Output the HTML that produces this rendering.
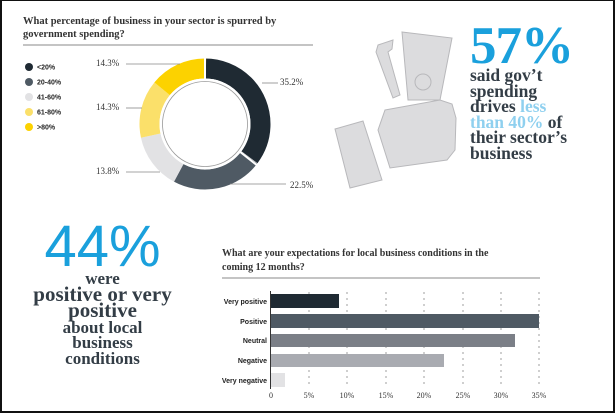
<!DOCTYPE html>
<html><head><style>
body{margin:0;width:615px;height:413px;overflow:hidden;background:#fff;}
.f{position:absolute;box-sizing:border-box;left:0;top:0;width:615px;height:413px;border:2px solid #111;border-top-width:1px;}
.t{position:absolute;font-family:"Liberation Serif",serif;color:#333d46;font-weight:bold;}
</style></head><body>
<div class="f"></div>
<svg width="615" height="413" style="position:absolute;left:0;top:0" font-family="Liberation Sans, sans-serif">
<text x="23" y="24" font-family="Liberation Serif, serif" font-weight="bold" font-size="10.5" fill="#333">What percentage of business in your sector is spurred by</text>
<text x="23" y="37" font-family="Liberation Serif, serif" font-weight="bold" font-size="10.5" fill="#333">government spending?</text>
<line x1="23" y1="45" x2="313" y2="45" stroke="#888" stroke-width="1"/>
<g font-size="7" fill="#222" font-weight="bold">
<circle cx="29" cy="67" r="4" fill="#1f2a33"/><text x="37" y="69.5">&lt;20%</text>
<circle cx="29" cy="82" r="4" fill="#4f5a64"/><text x="37" y="84.5">20-40%</text>
<circle cx="29" cy="97" r="4" fill="#e2e2e4"/><text x="37" y="99.5">41-60%</text>
<circle cx="29" cy="112" r="4" fill="#fbe06a"/><text x="37" y="114.5">61-80%</text>
<circle cx="29" cy="127" r="4" fill="#fcd200"/><text x="37" y="129.5">&gt;80%</text>
</g>
<g transform="translate(205,124)" fill="none" stroke-width="20">
<circle r="55.5" stroke="#1f2a33" stroke-dasharray="122.7 400" transform="rotate(-90)"/>
<circle r="55.5" stroke="#4f5a64" stroke-dasharray="78.5 400" transform="rotate(37.2)"/>
<circle r="55.5" stroke="#e2e2e4" stroke-dasharray="48.1 400" transform="rotate(118.2)"/>
<circle r="55.5" stroke="#fbe06a" stroke-dasharray="49.9 400" transform="rotate(167.9)"/>
<circle r="55.5" stroke="#fcd200" stroke-dasharray="49.9 400" transform="rotate(219.4)"/>
<g stroke="#fff" stroke-width="2">
<line x1="0" y1="-44" x2="0" y2="-68"/>
<line x1="34.5" y1="27.4" x2="53.3" y2="42.3"/>
</g>
<circle r="44" stroke="#fff" stroke-width="3"/>
<circle r="42.5" stroke="#999" stroke-width="0.8"/>
</g>
<g stroke="#888" stroke-width="0.8">
<line x1="126" y1="64" x2="180" y2="64"/><line x1="126" y1="108" x2="142" y2="108"/><line x1="126" y1="172" x2="160" y2="172"/>
<line x1="262" y1="83" x2="278" y2="83"/><line x1="230" y1="184" x2="286" y2="184"/>
</g>
<g font-family="Liberation Serif, serif" font-size="9" fill="#333">
<text x="96" y="66">14.3%</text><text x="96" y="110">14.3%</text><text x="96" y="174">13.8%</text>
<text x="280" y="85">35.2%</text><text x="290" y="188">22.5%</text>
</g>
<!-- hand icon -->
<g fill="#dcdcde" stroke="#b8b8bb" stroke-width="1">
<path d="M378 45 L393 40 L392 49 L388 52 L400 95 L393 98 L376 52 Z"/>
<path d="M402 32 L452 38 L440 100 L408 100 Z"/>
<path d="M335 129 L363 121 L382 180 L350 188 Z"/>
<path d="M385 110 L440 100 L452 104 L456 118 L455 150 L447 160 L390 168 L378 130 Z"/>
</g>
<circle cx="423" cy="82" r="8" fill="#dcdcde" stroke="#b8b8bb"/>
<text x="222" y="256" font-family="Liberation Serif, serif" font-weight="bold" font-size="10" fill="#333">What are your expectations for local business conditions in the</text>
<text x="222" y="270" font-family="Liberation Serif, serif" font-weight="bold" font-size="10" fill="#333">coming 12 months?</text>
<line x1="222" y1="278" x2="540" y2="278" stroke="#888"/>
<g stroke="#888" stroke-width="0.8" stroke-dasharray="2 4">
<line x1="309" y1="292" x2="309" y2="388"/><line x1="347" y1="292" x2="347" y2="388"/><line x1="386" y1="292" x2="386" y2="388"/><line x1="424" y1="292" x2="424" y2="388"/><line x1="463" y1="292" x2="463" y2="388"/><line x1="501" y1="292" x2="501" y2="388"/><line x1="539" y1="292" x2="539" y2="388"/>
</g>
<line x1="270.5" y1="291" x2="270.5" y2="389" stroke="#333"/>
<rect x="271" y="294" width="68" height="14" fill="#1f2a33"/>
<rect x="271" y="314" width="268" height="14" fill="#4f5a64"/>
<rect x="271" y="334" width="244" height="13" fill="#7b7f87"/>
<rect x="271" y="354" width="173" height="13" fill="#a9abb1"/>
<rect x="271" y="373" width="14" height="14" fill="#e2e2e4"/>
<g font-size="7" fill="#222" text-anchor="end" font-weight="bold">
<text x="267" y="304">Very positive</text><text x="267" y="324">Positive</text><text x="267" y="343">Neutral</text><text x="267" y="363">Negative</text><text x="267" y="383">Very negative</text>
</g>
<g font-family="Liberation Serif, serif" font-size="8" fill="#333" text-anchor="middle">
<text x="271" y="398">0</text><text x="309" y="398">5%</text><text x="347" y="398">10%</text><text x="386" y="398">15%</text><text x="424" y="398">20%</text><text x="463" y="398">25%</text><text x="501" y="398">30%</text><text x="539" y="398">35%</text>
</g>
</svg>
<div class="t" style="left:470px;top:20px;font-size:53px;line-height:53px;color:#1aa0dc;letter-spacing:-1px">57%</div>
<div class="t" style="left:470px;top:68px;font-size:17.5px;line-height:15.6px;">said gov’t<br>spending<br>drives <span style="color:#8fd0ef">less</span><br><span style="color:#8fd0ef">than 40%</span> of<br>their sector’s<br>business</div>
<div class="t" style="left:0;width:205px;text-align:center;top:218px;font-family:'Liberation Sans',sans-serif;font-size:58px;line-height:58px;color:#1aa0dc;font-weight:normal">44%</div>
<div class="t" style="left:0;width:205px;text-align:center;top:271px;line-height:15.5px;font-size:17px">were<br><span style="font-size:21px">positive or very<br>positive</span><br>about local<br>business<br>conditions</div>
</body></html>
